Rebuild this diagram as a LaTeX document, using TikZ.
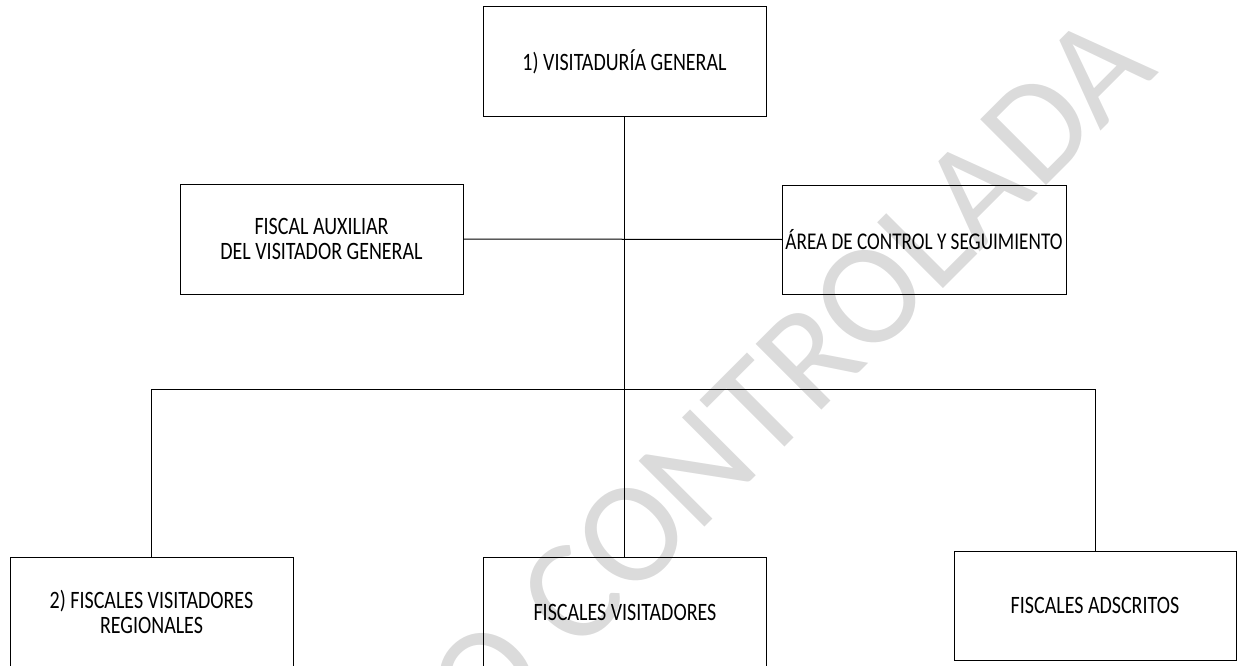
\documentclass[tikz,border=0pt]{standalone}
\usepackage{fontspec}
\setmainfont{Carlito}[FakeStretch=0.8]
\newfontfamily\markfont{Carlito}
\usepackage{tikz}
\usetikzlibrary{positioning,calc}

\begin{document}
\begin{tikzpicture}[
    x=1pt, y=-1pt,
    font=\fontsize{25}{25}\selectfont,
    unit/.style={draw=black, line width=1pt, minimum width=283pt, minimum height=110pt, inner sep=1pt, outer sep=0pt, align=center},
    link/.style={draw=black, line width=1pt},
    stamp/.style={font=\markfont\fontsize{145}{145}\selectfont, text=black!14, rotate=45, inner sep=0pt}
]
    \useasboundingbox (0,0) rectangle (1237,666);

    % Watermark, cut at the page border
    \begin{scope}
        \clip (0,0) rectangle (1237,666);
        \node[stamp, anchor=base east] (sello) at (1160,72) {COPIA NO CONTROLADA};
    \end{scope}

    % Head of the unit
    \node[unit] (visitaduria) at (624.5,62) {1) VISITADURÍA GENERAL};

    % Support areas
    \node[unit] (auxiliar) at (321.5,239) {FISCAL AUXILIAR\\DEL VISITADOR GENERAL};
    \node[unit, minimum width=284pt, minimum height=109pt, font=\fontsize{24}{25}\selectfont] (control) at (924,239.5) {ÁREA DE CONTROL Y SEGUIMIENTO};

    % Subordinate areas
    \node[unit] (regionales) at (151.5,612) {2) FISCALES VISITADORES\\REGIONALES};
    \node[unit] (visitadores) at (625,612) {FISCALES VISITADORES};
    \node[unit, minimum width=282pt, minimum height=109pt] (adscritos) at (1095,605.5) {FISCALES ADSCRITOS};

    % Connectors
    \coordinate (bus) at (visitaduria.south |- 0,389);
    \draw[link] (visitaduria.south) -- (visitaduria.south |- visitadores.north);
    \draw[link] (auxiliar.east) -- (control.west);
    \draw[link] (regionales.north) -- (regionales.north |- bus) -- (adscritos.north |- bus) -- (adscritos.north);
\end{tikzpicture}
\end{document}
